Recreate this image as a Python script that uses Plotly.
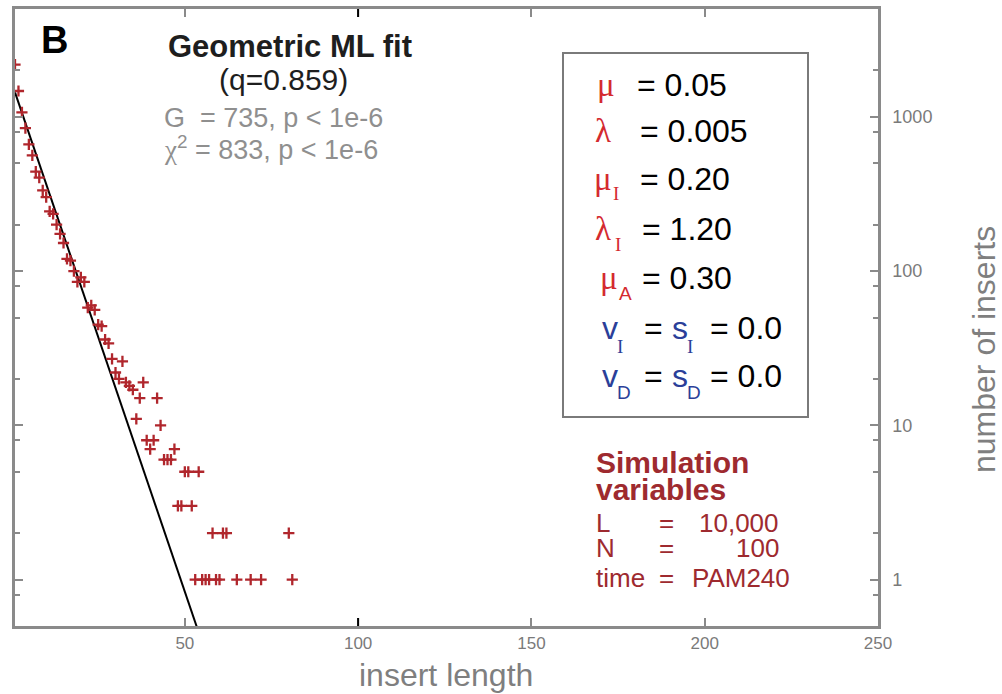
import plotly.graph_objects as go

# ---------------- data ----------------
insert_length = [1, 2, 3, 4, 5, 6, 7, 8, 9, 10,
                 11, 12, 13, 14, 15, 16, 17, 18, 19, 20,
                 21, 22, 23, 24, 25, 26, 27, 28, 29, 30,
                 31, 32, 33, 34, 35, 36, 37, 38, 39, 40,
                 41, 42, 43, 44, 45, 46, 47, 48, 49, 50,
                 51, 52, 53, 54, 55, 56, 57, 58, 59, 60,
                 61, 62, 65, 69, 72, 80, 81]
number_of_inserts = [2180, 1470, 1070, 845, 662, 563, 441, 404, 334, 302,
                     244, 235, 200, 174, 152, 120, 117, 100, 85, 91,
                     85, 58, 60, 56, 45, 44, 36, 34, 27, 22,
                     20, 26, 19, 18, 17, 11, 15, 19, 8, 7,
                     8, 15, 10, 6, 6, 6, 7, 3, 3, 5,
                     5, 3, 1, 5, 1, 1, 1, 2, 1, 1,
                     2, 2, 1, 1, 1, 2, 1]

# geometric ML fit line (end points)
fit_x = [1, 55]
fit_y = [1440, 0.39]

x_ticks = [50, 100, 150, 200, 250]
y_ticks = [1, 10, 100, 1000]
y_ticktext = ["1", "10", "100", "1000"]
y_minor = [0.8, 2, 5, 8, 20, 50, 80, 200, 500, 800, 2000]

panel_label = "B"
fit_title = "Geometric ML fit"
fit_param = "(q=0.859)"
stat_lines = ["G  = 735, p < 1e-6", "χ<sup>2</sup> = 833, p < 1e-6"]

param_symbols = ["μ", "λ", "μ", "λ", "μ"]
param_subs = ["", "", "I", "I", "A"]
param_values = ["0.05", "0.005", "0.20", "1.20", "0.30"]
rate_symbols = [("v", "I", "s", "I"), ("v", "D", "s", "D")]
rate_values = ["0.0", "0.0"]

sim_title = ["Simulation", "variables"]
sim_names = ["L", "N", "time"]
sim_values = ["10,000", "100", "PAM240"]

x_title = "insert length"
y_title = "number of inserts"

# ---------------- styling ----------------
SANS = "Liberation Sans, Arial, sans-serif"
SERIF = "Liberation Serif, Times New Roman, serif"
GRAY = "#8a8a8a"
RED = "#d42a2f"
BLUE = "#2b3f99"
MAROON = "#9e2a2f"
MARK = "#b0262c"

L, R, T, B = 15, 878, 9, 626
W, H = 1002, 694


def px(x):
    return (x - L) / (R - L)


def py(y):
    return (B - y) / (B - T)


fig = go.Figure()
fig.add_trace(go.Scatter(
    x=fit_x, y=fit_y, mode="lines",
    line=dict(color="black", width=2), showlegend=False))
fig.add_trace(go.Scatter(
    x=insert_length, y=number_of_inserts, mode="markers",
    marker=dict(symbol="cross-thin", size=8,
                line=dict(color=MARK, width=2.3)),
    showlegend=False))

ann = []


def add(text, x, y, size, color="black", family=SANS, xanchor="left",
        yanchor="middle", angle=0):
    ann.append(dict(text=text, x=px(x), y=py(y), xref="paper", yref="paper",
                    xanchor=xanchor, yanchor=yanchor, showarrow=False,
                    textangle=angle,
                    font=dict(size=size, color=color, family=family)))


# panel letter and fit text
add("<b>%s</b>" % panel_label, 39, 40, 38)
add("<b>%s</b>" % fit_title, 290, 46, 31, color="#1e1e1e", xanchor="center")
add(fit_param, 283.5, 80, 30, color="#1e1e1e", xanchor="center")
add(stat_lines[0], 162, 118, 27, color="#8f8f8f")
add(stat_lines[1].replace("χ", '<span style="font-family:Liberation Serif">χ</span>'),
    162, 148, 27, color="#8f8f8f")

# parameter box rows
sym_x = [595, 593, 592, 593, 598]
sub_x = [None, None, 611, 613, 617]
eq_x = [635, 638, 638, 640, 640]
row_y = [85, 131, 179, 228.5, 278.5]
sub_y = [None, None, 193, 244.5, 293.5]
sub_fam = [None, None, SERIF, SERIF, SANS]
for i in range(5):
    add(param_symbols[i], sym_x[i], row_y[i], 33, color=RED, family=SERIF)
    if param_subs[i]:
        add(param_subs[i], sub_x[i], sub_y[i], 19, color=RED, family=sub_fam[i])
    add("= " + param_values[i], eq_x[i], row_y[i], 32)

rate_y = [327.5, 376]
rate_sub_y = [346, 392.5]
for j in range(2):
    v, vsub, s, ssub = rate_symbols[j]
    fam = SERIF if vsub == "I" else SANS
    add(v, 600, rate_y[j], 32, color=BLUE)
    add(vsub, 615, rate_sub_y[j], 19, color=BLUE, family=fam)
    add("=", 642, rate_y[j], 32)
    add(s, 670, rate_y[j], 32, color=BLUE)
    add(ssub, 685, rate_sub_y[j], 19, color=BLUE, family=fam)
    add("= " + rate_values[j], 708, rate_y[j], 32)

# simulation variables
add("<b>%s</b>" % sim_title[0], 594, 462, 30, color=MAROON)
add("<b>%s</b>" % sim_title[1], 594, 489, 30, color=MAROON)
sim_y = [523, 548, 578]
for k in range(3):
    add(sim_names[k], 594, sim_y[k], 26, color=MAROON)
    add("=", 657, sim_y[k], 26, color=MAROON)
    if k < 2:
        add(sim_values[k], 781, sim_y[k], 26, color=MAROON, xanchor="right")
    else:
        add(sim_values[k], 690, sim_y[k], 26, color=MAROON)

# axis titles
add(x_title, 446, 675, 32, color="#7f7f7f", xanchor="center")
add(y_title, 984, 350, 32, color="#7f7f7f", xanchor="center", angle=-90)

shapes = [
    dict(type="rect", xref="paper", yref="paper",
         x0=px(563), x1=px(808), y0=py(417), y1=py(53),
         line=dict(color="#7a7a7a", width=2), fillcolor="rgba(0,0,0,0)"),
    dict(type="line", xref="x", yref="paper", x0=100, x1=100,
         y0=0, y1=8 / (B - T), line=dict(color="black", width=2)),
    dict(type="line", xref="x", yref="paper", x0=100, x1=100,
         y0=1, y1=1 - 8 / (B - T), line=dict(color="black", width=2)),
]

fig.update_layout(
    width=W, height=H,
    margin=dict(l=L, r=W - R, t=T, b=H - B, autoexpand=False),
    paper_bgcolor="white", plot_bgcolor="white",
    font=dict(family=SANS, color=GRAY),
    annotations=ann, shapes=shapes,
    xaxis=dict(range=[1, 250], tickvals=x_ticks, ticks="inside", ticklen=8,
               tickwidth=2, tickcolor=GRAY, showline=True, linecolor=GRAY,
               linewidth=2.5, mirror="ticks", showgrid=False, zeroline=False,
               tickfont=dict(size=17, color="#7a7a7a")),
    yaxis=dict(type="log", range=[-0.30103, 3.69897], side="right",
               tickvals=y_ticks, ticktext=y_ticktext, ticks="inside",
               ticklen=8, tickwidth=2, tickcolor=GRAY, showline=True,
               linecolor=GRAY, linewidth=2.5, mirror="ticks", showgrid=False,
               zeroline=False, tickfont=dict(size=18, color="#7a7a7a"),
               ticklabelstandoff=8,
               minor=dict(tickvals=y_minor, ticks="inside", ticklen=5,
                          tickwidth=2, tickcolor=GRAY, showgrid=False)),
)

fig.write_html("out.html")
